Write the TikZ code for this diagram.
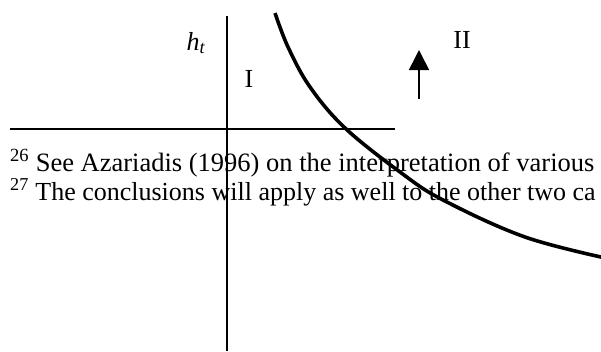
\documentclass[tikz,border=0pt]{standalone}
\usepackage{fontspec}
\setmainfont{Liberation Serif}
\usetikzlibrary{arrows.meta}
\begin{document}
\begin{tikzpicture}[x=1pt,y=-1pt,
  axis/.style={line width=1.6pt},
  curveline/.style={line width=3.6pt},
  lbl/.style={inner sep=0pt,font=\fontsize{26}{30}\selectfont},
  note/.style={inner sep=0pt,anchor=base west,font=\fontsize{26.5}{30}\selectfont}]
\useasboundingbox (0,0) rectangle (601,351);
% footnote text
\node[note] (n26) at (10,171) {\textsuperscript{26} See Azariadis (1996) on the interpretation of various};
\node[note,font=\fontsize{26}{30}\selectfont] (n27) at (10,200) {\textsuperscript{27} The conclusions will apply as well to the other two ca};
% axes
\coordinate (vtop) at (227,16);
\coordinate (vbot) at (227,351);
\coordinate (hl) at (10,129);
\coordinate (hr) at (395,129);
\draw[axis] (vtop) -- (vbot);
\draw[axis] (hl) -- (hr);
% labels
\node[lbl] (ht) at (196,43) {\textit{h}\textsubscript{\textit{t}}};
\node[lbl] (r1) at (249,79) {I};
\node[lbl] (r2) at (462,40) {II};
% arrow
\coordinate (abot) at (419,99);
\coordinate (atop) at (419,50);
\draw[line width=1.6pt,-{Triangle[length=20pt,width=20pt]}] (abot) -- (atop);
% curve
\begin{scope}
\clip (0,0) rectangle (601,351);
\draw[curveline] plot[smooth,tension=0.6] coordinates {(275,13) (288,47) (310,87) (345,128) (400,172) (443,200) (525,237) (610,259)};
\end{scope}
\end{tikzpicture}
\end{document}
